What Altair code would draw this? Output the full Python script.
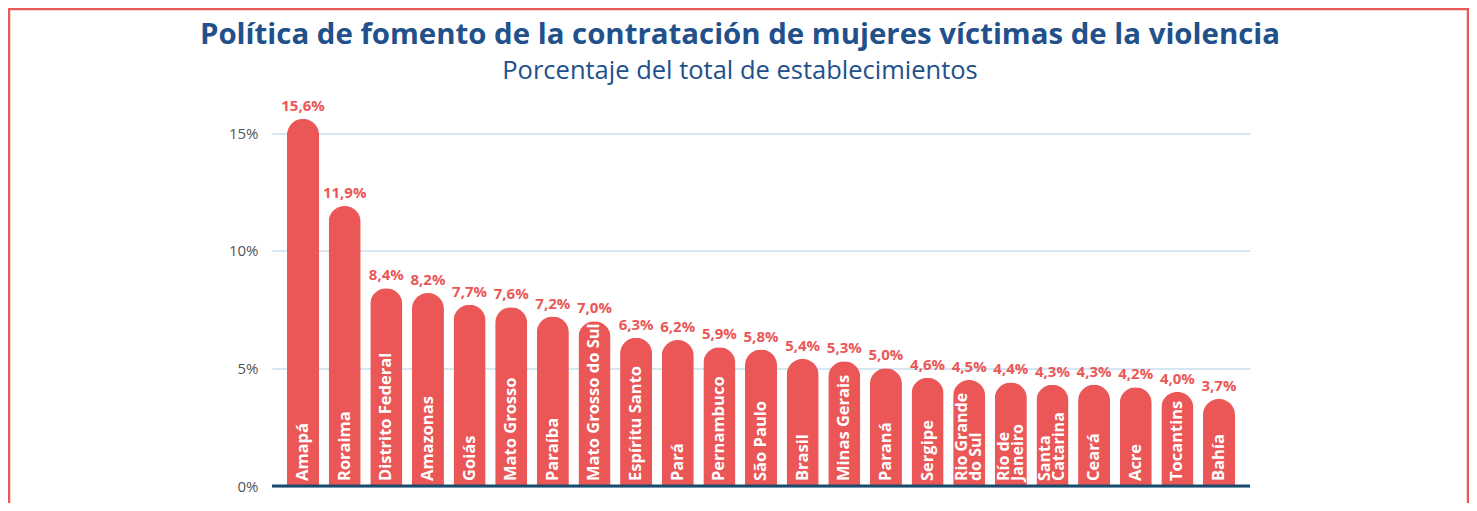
import altair as alt
import pandas as pd

estados = ["Amapá", "Roraima", "Distrito Federal", "Amazonas", "Goiás", "Mato Grosso",
           "Paraíba", "Mato Grosso do Sul", "Espíritu Santo", "Pará", "Pernambuco",
           "São Paulo", "Brasil", "Minas Gerais", "Paraná", "Sergipe",
           "Rio Grande\ndo Sul", "Río de\nJaneiro", "Santa\nCatarina", "Ceará", "Acre",
           "Tocantins", "Bahía"]
valores = [15.6, 11.9, 8.4, 8.2, 7.7, 7.6, 7.2, 7.0, 6.3, 6.2, 5.9, 5.8, 5.4, 5.3,
           5.0, 4.6, 4.5, 4.4, 4.3, 4.3, 4.2, 4.0, 3.7]
y_ticks = [0, 5, 10, 15]
titulo = "Política de fomento de la contratación de mujeres víctimas de la violencia"
subtitulo = "Porcentaje del total de establecimientos"

df = pd.DataFrame({"estado": estados, "valor": valores})
df["lineas"] = df["estado"].str.count("\n") + 1

RED = "#EB5757"
NAVY = "#22508A"
FONT = "Open Sans"

W, H = 978, 376.5

x = alt.X("estado:N", sort=estados,
          scale=alt.Scale(paddingInner=0.23, paddingOuter=0.36),
          axis=None)
y = alt.Y("valor:Q", scale=alt.Scale(domain=[0, 16], nice=False),
          axis=alt.Axis(values=y_ticks, labelExpr="datum.value + '%'", title=None,
                        domain=False, ticks=False, labelFontSize=15, labelColor="#555555",
                        labelFont=FONT, labelPadding=14, gridColor="#C6DFEF",
                        gridWidth=1.5))

base = alt.Chart(df)

bars = base.mark_bar(color=RED, cornerRadiusTopLeft=16, cornerRadiusTopRight=16).encode(x=x, y=y)

vals = base.transform_calculate(
    lab="replace(format(datum.valor, '.1f'), '.', ',') + '%'"
).mark_text(color=RED, font=FONT, fontWeight="bold", fontSize=15, baseline="bottom", dy=-5).encode(
    x=x, y="valor:Q", text="lab:N")

names1 = base.transform_filter("datum.lineas == 1").mark_text(
    color="white", font=FONT, fontWeight="bold", fontSize=16.5, angle=270,
    align="left", baseline="middle", dx=5).encode(
    x=x, y=alt.datum(0), text="estado:N")

names2 = base.transform_filter("datum.lineas == 2").mark_text(
    color="white", font=FONT, fontWeight="bold", fontSize=16, angle=270,
    align="left", baseline="middle", dx=5, dy=-7, lineBreak="\n", lineHeight=14).encode(
    x=x, y=alt.datum(0), text="estado:N")

baseline = alt.Chart(pd.DataFrame({"v": [0]})).mark_rule(color="#1B4A6B", strokeWidth=3).encode(
    y="v:Q", x=alt.value(0), x2=alt.value(W))

frame = alt.Chart(pd.DataFrame({"v": [0]})).mark_rect(
    filled=False, stroke="#E85A5A", strokeWidth=2.5).encode(
    x=alt.value(-263), x2=alt.value(1196), y=alt.value(-100.5), y2=alt.value(420))

tit = alt.Chart(pd.DataFrame({"t": [titulo]})).mark_text(
    font=FONT, fontSize=29.4, fontWeight="bold", color=NAVY, align="center", baseline="alphabetic").encode(
    x=alt.value(468), y=alt.value(-65.5), text="t:N")

sub = alt.Chart(pd.DataFrame({"t": [subtitulo]})).mark_text(
    font=FONT, fontSize=25.5, fontWeight="normal", color=NAVY, align="center", baseline="alphabetic").encode(
    x=alt.value(468), y=alt.value(-30.5), text="t:N")

chart = alt.layer(frame, tit, sub, bars, vals, names1, names2, baseline).properties(
    width=W, height=H,
    autosize=alt.AutoSizeParams(type="none"),
    padding={"left": 264, "top": 101.5, "right": 219, "bottom": 17},
).configure_view(stroke=None)

chart.save("out.html", embed_options={"renderer": "svg", "actions": False})
